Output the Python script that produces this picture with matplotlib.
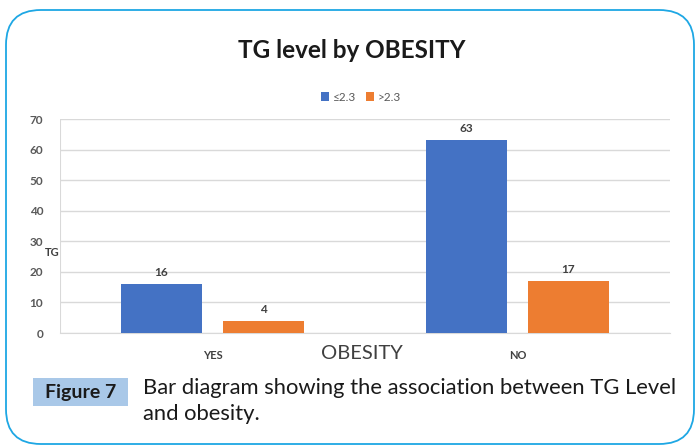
import matplotlib.pyplot as plt
from matplotlib.patches import FancyBboxPatch, Rectangle
import numpy as np

categories = ["YES", "NO"]
series_names = ["\u22642.3", ">2.3"]
low_vals = [16, 63]
high_vals = [4, 17]
colors = ["#4472c4", "#ed7d31"]

plt.rcParams["font.family"] = ["Lato", "DejaVu Sans"]

fig = plt.figure(figsize=(6.97, 4.48), dpi=100)
W, H = 697, 448

# rounded outer frame
frame = FancyBboxPatch((6 / W, 4 / H), 688 / W, 434 / H,
                       boxstyle="round,pad=0,rounding_size=0.05",
                       transform=fig.transFigure, fill=False,
                       edgecolor="#1ea7e4", linewidth=1.3, mutation_aspect=W / H)
fig.patches.append(frame)

ax = fig.add_axes([60 / W, 1 - 333 / H, 610 / W, 214 / H])
x = np.arange(len(categories))
w = 0.266
off = 0.167
for vals, c, name, d in [(low_vals, colors[0], series_names[0], -off),
                          (high_vals, colors[1], series_names[1], off)]:
    bars = ax.bar(x + d, vals, w, color=c, label=name, zorder=3)
    for b, v in zip(bars, vals):
        ax.text(b.get_x() + b.get_width() / 2, v + 2, str(v), ha="center",
                va="bottom", fontsize=8.5, fontweight="bold", color="#404040")

ax.set_xlim(-0.5, 1.5)
ax.set_ylim(0, 70)
ax.set_yticks(range(0, 71, 10))
ax.set_xticks(x)
ax.set_xticklabels(categories, fontsize=8, fontweight="bold", color="#404040")
ax.tick_params(axis="y", labelsize=8.5, colors="#595959", length=0, pad=12)
ax.tick_params(axis="x", length=0, pad=12)
for lbl in ax.get_yticklabels():
    lbl.set_fontweight("bold")
ax.grid(axis="y", color="#d9d9d9", linewidth=1, zorder=0)
for s in ["top", "right", "left"]:
    ax.spines[s].set_visible(False)
ax.spines["bottom"].set_color("#d9d9d9")
ax.axvline(-0.5, color="#d9d9d9", linewidth=1.5, zorder=1)

fig.text(52 / W, 1 - 252 / H, "TG", fontsize=8, fontweight="bold",
         ha="center", va="center", color="#404040")
fig.text(362 / W, 1 - 353 / H, "OBESITY", fontsize=14.5, ha="center",
         va="center", color="#404040")
fig.text(352 / W, 1 - 50 / H, "TG level by OBESITY", fontsize=17.5,
         fontweight="bold", ha="center", va="center", color="#1a1a1a")

ax.legend(loc="upper center", bbox_to_anchor=(361 / W, 1 - 81 / H),
          bbox_transform=fig.transFigure, ncol=2, frameon=False, fontsize=8.5,
          handlelength=0.7, handleheight=0.7, columnspacing=0.8,
          handletextpad=0.3, labelcolor="#595959")

fig.patches.append(Rectangle((33 / W, 1 - 406 / H), 95 / W, 28 / H,
                             transform=fig.transFigure, facecolor="#a9c8e8",
                             edgecolor="none"))
fig.text(80.5 / W, 1 - 392 / H, "Figure 7", fontsize=14, fontweight="bold",
         ha="center", va="center", color="#1a1a1a")
fig.text(143 / W, 1 - 388 / H, "Bar diagram showing the association between TG Level",
         fontsize=15.8, ha="left", va="center", color="#1a1a1a")
fig.text(143 / W, 1 - 414 / H, "and obesity.", fontsize=15.8, ha="left",
         va="center", color="#1a1a1a")

fig.savefig("out.png", dpi=100)
